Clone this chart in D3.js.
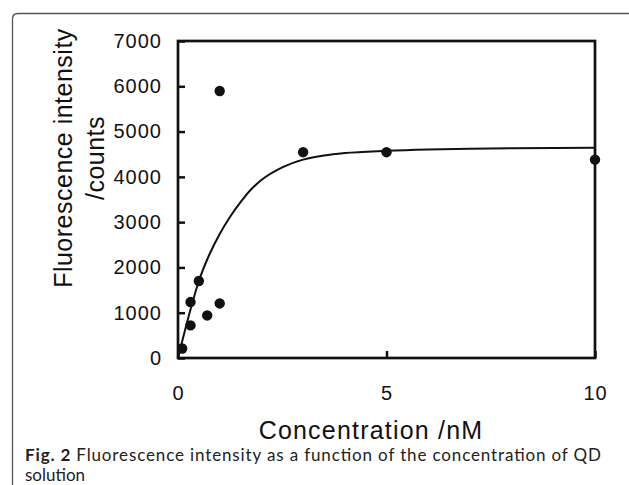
<!DOCTYPE html>
<html>
<head>
<meta charset="utf-8">
<script src="https://cdn.jsdelivr.net/npm/d3@7"></script>
<style>
body { margin: 0; background: #fff; }
</style>
</head>
<body>
<div id="chart"></div>
<script>
// measured points
const concentration = [0.1, 0.3, 0.3, 0.5, 0.7, 1.0, 1.0, 3, 5, 10];
const intensity = [210, 720, 1235, 1700, 940, 1205, 5895, 4545, 4545, 4380];

// fitted curve
const fitConcentration = [0, 0.25, 0.5, 0.75, 1, 1.25, 1.5, 1.75, 2, 2.5, 3, 3.5, 4, 5, 6, 7, 8, 10];
const fitIntensity = [0, 900, 1700, 2280, 2740, 3120, 3440, 3720, 3930, 4210, 4380, 4470, 4525, 4575, 4605, 4622, 4632, 4640];

const xTicks = [0, 5, 10];
const yTicks = [0, 1000, 2000, 3000, 4000, 5000, 6000, 7000];

const xLabel = "Concentration /nM";
const yLabel = ["Fluorescence intensity", "/counts"];
const captionBold = "Fig. 2";
const captionLines = [" Fluorescence intensity as a function of the concentration of QD", "solution"];

DrawChart();

function DrawChart() {
    const width = 629, height = 485;
    const left = 178, right = 595, top = 41, bottom = 358;

    let svg = d3.select("#chart")
        .append("svg")
        .attr("width", width)
        .attr("height", height);

    //outer frame of the figure box (only top and left visible)
    svg.append("path")
        .attr("d", "M 12.5 " + height + " L 12.5 19 Q 12.5 13.5 18 13.5 L " + width + " 13.5")
        .attr("fill", "none")
        .attr("stroke", "#555")
        .attr("stroke-width", 1.3);

    let x = d3.scaleLinear().domain([0, 10]).range([left, right]);
    let y = d3.scaleLinear().domain([0, 7000]).range([bottom, top]);

    //axes with inward ticks
    let yAxis = svg.append("g")
        .attr("transform", "translate(" + left + ",0)")
        .call(d3.axisLeft(y).tickValues(yTicks).tickSize(-7).tickPadding(16).tickFormat(d3.format("d")));
    let xAxis = svg.append("g")
        .attr("transform", "translate(0," + bottom + ")")
        .call(d3.axisBottom(x).tickValues(xTicks).tickSize(-7).tickPadding(28).tickFormat(d3.format("d")));

    [xAxis, yAxis].forEach(function(g) {
        g.select(".domain").remove();
        g.selectAll(".tick line").attr("stroke", "#111").attr("stroke-width", 2.5);
        g.selectAll(".tick text")
            .attr("fill", "#111")
            .style("font-family", "'Liberation Sans', Arial, sans-serif")
            .style("font-size", "20px")
            .style("letter-spacing", "1px");
    });

    //plot frame
    svg.append("rect")
        .attr("x", left)
        .attr("y", top)
        .attr("width", right - left)
        .attr("height", bottom - top)
        .attr("fill", "none")
        .attr("stroke", "#111")
        .attr("stroke-width", 2.7);

    //fitted curve
    let line = d3.line()
        .x(function(d, i) { return x(fitConcentration[i]); })
        .y(function(d) { return y(d); })
        .curve(d3.curveMonotoneX);
    svg.append("path")
        .datum(fitIntensity)
        .attr("d", line)
        .attr("fill", "none")
        .attr("stroke", "#111")
        .attr("stroke-width", 2);

    //data points
    svg.selectAll(".pt")
        .data(intensity)
        .join("circle")
        .attr("class", "pt")
        .attr("cx", function(d, i) { return x(concentration[i]); })
        .attr("cy", function(d) { return y(d); })
        .attr("r", 5.2)
        .attr("fill", "#111");

    //axis titles
    svg.append("text")
        .attr("x", 371)
        .attr("y", 439)
        .attr("text-anchor", "middle")
        .attr("fill", "#111")
        .style("font-family", "'Liberation Sans', Arial, sans-serif")
        .style("font-size", "25px")
        .style("letter-spacing", "1.2px")
        .text(xLabel);

    svg.selectAll(".ylab")
        .data(yLabel)
        .join("text")
        .attr("class", "ylab")
        .attr("transform", function(d, i) { return "translate(" + (72 + i * 32) + ",158) rotate(-90)"; })
        .attr("text-anchor", "middle")
        .attr("fill", "#111")
        .style("font-family", "'Liberation Sans', Arial, sans-serif")
        .style("font-size", "25px")
        .style("letter-spacing", "0.5px")
        .text(function(d) { return d; });

    //caption
    let cap = svg.append("text")
        .attr("x", 25)
        .attr("y", 460.5)
        .attr("textLength", 576)
        .attr("lengthAdjust", "spacing")
        .attr("fill", "#222")
        .style("font-family", "Lato, sans-serif")
        .style("font-size", "17px");
    cap.append("tspan").style("font-weight", "bold").text(captionBold);
    cap.append("tspan").text(captionLines[0]);
    svg.append("text")
        .attr("x", 25)
        .attr("y", 481)
        .attr("fill", "#222")
        .style("font-family", "Lato, sans-serif")
        .style("font-size", "17px")
        .text(captionLines[1]);
}
</script>
</body>
</html>
